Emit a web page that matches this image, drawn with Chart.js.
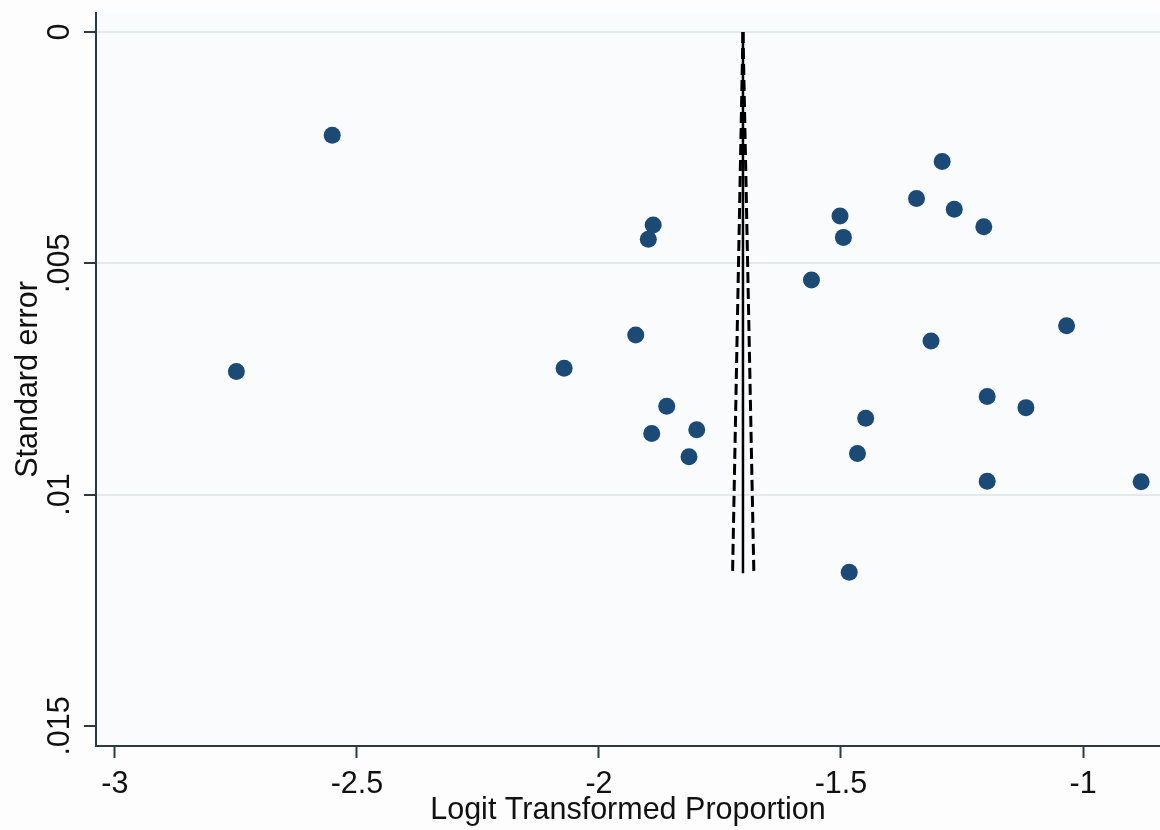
<!DOCTYPE html>
<html>
<head>
<meta charset="utf-8">
<script src="https://cdn.jsdelivr.net/npm/chart.js@4"></script>
<style>
  html, body { margin: 0; padding: 0; background: #fdfdfe; }
  canvas { display: block; }
</style>
</head>
<body>
<canvas id="funnel" width="1160" height="830"></canvas>
<script>
// tick positions and labels (Stata style)
const xTicks = [-3, -2.5, -2, -1.5, -1];
const xTickLabels = ['-3', '-2.5', '-2', '-1.5', '-1'];
const yTicks = [0, 0.005, 0.01, 0.015];
const yTickLabels = ['0', '.005', '.01', '.015'];

// studies: logit proportion and its standard error
const logitValues = [
    -2.551, -2.749, -2.072, -1.924, -1.888, -1.898, -1.860, -1.891, -1.798,
    -1.814, -1.561, -1.502, -1.495, -1.449, -1.466, -1.483, -1.344, -1.291,
    -1.266, -1.205, -1.314, -1.198, -1.118, -1.034, -1.198, -0.880
];
const seValues = [
    0.00223, 0.00734, 0.00727, 0.00655, 0.00417, 0.00448, 0.00809, 0.00868, 0.00860,
    0.00918, 0.00536, 0.00398, 0.00444, 0.00835, 0.00911, 0.01168, 0.00360, 0.00280,
    0.00383, 0.00421, 0.00668, 0.00788, 0.00812, 0.00635, 0.00971, 0.00972
];

// pooled estimate line and pseudo 95% limits
const funnelSe = [0, 0.0117];
const funnelCenter = [-1.7025, -1.7025];
const funnelLower = [-1.7025, -1.724];
const funnelUpper = [-1.7025, -1.680];

const FONT = "'Liberation Sans', Arial, sans-serif";
const FONT_SIZE = 30.5;
const AXIS_COLOR = '#2d3a40';

function pairs(xs, ys) {
    return xs.map((x, i) => ({ x: x, y: ys[i] }));
}

const backgroundPlugin = {
    id: 'plotBackground',
    beforeDraw(chart) {
        const { ctx, chartArea } = chart;
        ctx.save();
        ctx.fillStyle = '#f9fbfd';
        ctx.fillRect(chartArea.left, chartArea.top, chartArea.right - chartArea.left, chartArea.bottom - chartArea.top);
        ctx.restore();
    }
};

// vertical y tick labels, drawn like Stata
const yLabelPlugin = {
    id: 'yLabels',
    afterDraw(chart) {
        const ctx = chart.ctx;
        const yScale = chart.scales.y;
        ctx.save();
        ctx.font = FONT_SIZE + 'px ' + FONT;
        ctx.fillStyle = '#111';
        ctx.textAlign = 'center';
        ctx.textBaseline = 'middle';
        yTicks.forEach((v, i) => {
            ctx.save();
            ctx.translate(61, yScale.getPixelForValue(v));
            ctx.rotate(-Math.PI / 2);
            ctx.fillText(yTickLabels[i], 0, 0);
            ctx.restore();
        });
        ctx.restore();
    }
};

const ctx = document.getElementById('funnel').getContext('2d');
new Chart(ctx, {
    type: 'scatter',
    data: {
        datasets: [{
            label: 'studies',
            data: pairs(logitValues, seValues),
            backgroundColor: '#1a4a75',
            borderColor: '#1a4a75',
            pointRadius: 8.5,
            pointHoverRadius: 8.5,
            borderWidth: 0
        }, {
            label: 'pooled',
            data: pairs(funnelCenter, funnelSe),
            showLine: true,
            borderColor: '#000',
            borderWidth: 2.5,
            pointRadius: 0
        }, {
            label: 'lower',
            data: pairs(funnelLower, funnelSe),
            showLine: true,
            borderColor: '#000',
            borderWidth: 3,
            borderDash: [11, 5],
            pointRadius: 0
        }, {
            label: 'upper',
            data: pairs(funnelUpper, funnelSe),
            showLine: true,
            borderColor: '#000',
            borderWidth: 3,
            borderDash: [11, 5],
            pointRadius: 0
        }]
    },
    options: {
        responsive: false,
        animation: false,
        layout: { autoPadding: false, padding: { top: 13, right: 0, left: 0, bottom: 0 } },
        plugins: {
            legend: { display: false },
            tooltip: { enabled: false }
        },
        scales: {
            x: {
                type: 'linear',
                min: -3.039,
                max: -0.841,
                afterBuildTicks: scale => { scale.ticks = xTicks.map(v => ({ value: v })); },
                afterFit: scale => {
                    scale.height = 84;
                    scale.paddingLeft = 0;
                    scale.paddingRight = 0;
                },
                border: { color: AXIS_COLOR, width: 2 },
                grid: {
                    drawOnChartArea: false,
                    tickLength: 12,
                    tickColor: AXIS_COLOR,
                    tickWidth: 2
                },
                ticks: {
                    font: { family: FONT, size: FONT_SIZE },
                    color: '#111',
                    padding: 8,
                    maxRotation: 0,
                    callback: (v, i) => xTickLabels[i]
                },
                title: {
                    display: true,
                    text: 'Logit Transformed Proportion',
                    font: { family: FONT, size: FONT_SIZE },
                    color: '#111',
                    padding: { top: 0, bottom: 1 }
                }
            },
            y: {
                type: 'linear',
                reverse: true,
                min: -0.00041,
                max: 0.015434,
                afterBuildTicks: scale => { scale.ticks = yTicks.map(v => ({ value: v })); },
                afterFit: scale => {
                    scale.width = 96;
                    scale.paddingTop = 0;
                    scale.paddingBottom = 0;
                },
                border: { color: AXIS_COLOR, width: 2 },
                grid: {
                    color: c => (c.tick && c.tick.value === 0.015) ? 'rgba(0,0,0,0)' : '#e4e9ec',
                    lineWidth: 2,
                    tickLength: 12,
                    tickColor: AXIS_COLOR,
                    tickWidth: 2
                },
                ticks: { display: false },
                title: {
                    display: true,
                    text: 'Standard error',
                    font: { family: FONT, size: FONT_SIZE },
                    color: '#111',
                    padding: { top: 10, bottom: 0 }
                }
            }
        }
    },
    plugins: [backgroundPlugin, yLabelPlugin]
});
</script>
</body>
</html>
